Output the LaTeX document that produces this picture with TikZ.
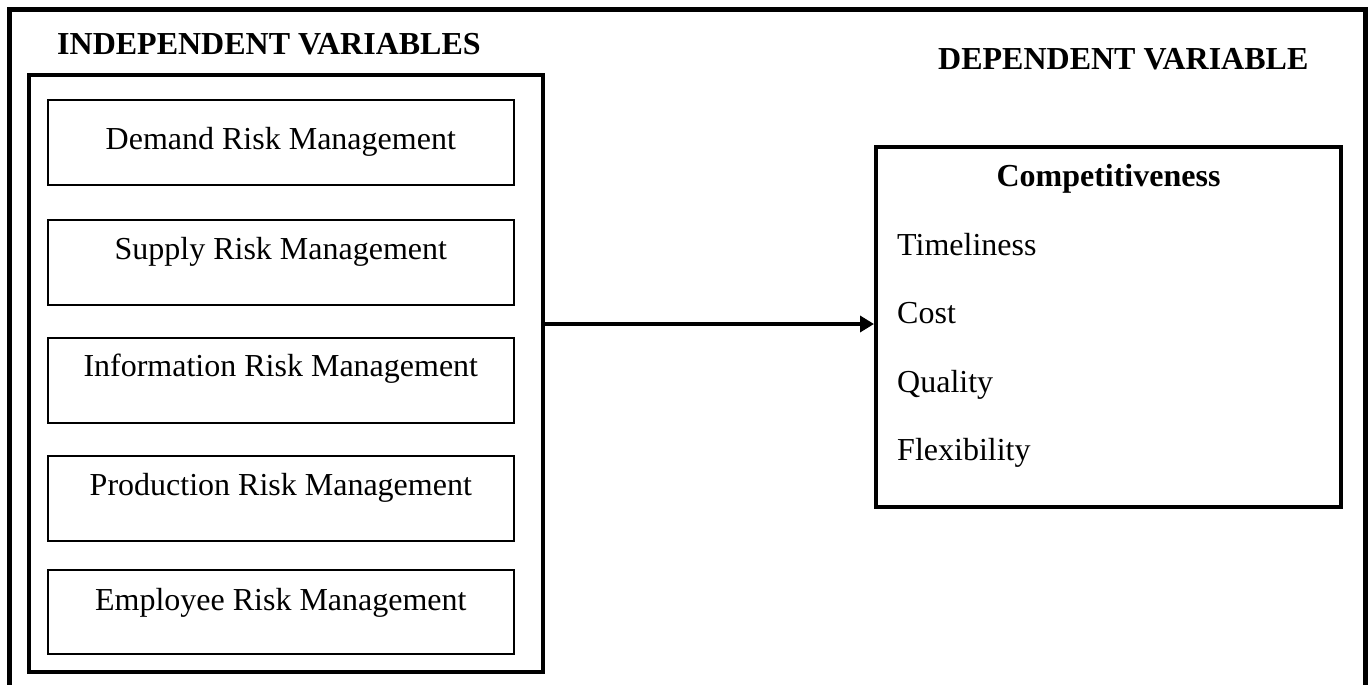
\documentclass[tikz,border=0pt]{standalone}
\usepackage{fontspec}
\setmainfont{Liberation Serif}
\usetikzlibrary{arrows.meta}
\begin{document}
\begin{tikzpicture}[x=1pt,y=-1pt,
  framestyle/.style={line width=5pt},
  bigbox/.style={draw,line width=4pt,rectangle,inner sep=0pt,anchor=north west},
  itembox/.style={draw,line width=1.6pt,rectangle,inner sep=0pt,anchor=north west,minimum width=466pt,minimum height=85pt},
  itemtext/.style={anchor=base,inner sep=0pt,font=\fontsize{32}{38}\selectfont},
  headtext/.style={anchor=base west,inner sep=0pt,font=\fontsize{32}{38}\selectfont\bfseries},
  listtext/.style={anchor=base west,inner sep=0pt,font=\fontsize{32}{38}\selectfont},
  arrowstyle/.style={line width=3.5pt,-{Triangle[length=14pt,width=16pt]}}
]
\useasboundingbox (0,0) rectangle (1370,685);
% outer frame (open at bottom)
\draw[framestyle] (9.5,690) -- (9.5,9.5) -- (1365,9.5) -- (1365,690);

% headings
\node[headtext] (hind) at (57,55) {INDEPENDENT VARIABLES};
\node[headtext] (hdep) at (938,70) {DEPENDENT VARIABLE};

% independent variables box
\node[bigbox,minimum width=514pt,minimum height=597pt] (indep) at (27,73) {};
\node[itembox] (b1) at (47,99) {};
\node[itembox] (b2) at (47,219) {};
\node[itembox] (b3) at (47,337) {};
\node[itembox] (b4) at (47,455) {};
\node[itembox,minimum height=84pt] (b5) at (47,569) {};
\node[itemtext] (t1) at ([yshift=-50pt]b1.north) {Demand Risk Management};
\node[itemtext] (t2) at ([yshift=-40pt]b2.north) {Supply Risk Management};
\node[itemtext] (t3) at ([yshift=-39pt]b3.north) {Information Risk Management};
\node[itemtext] (t4) at ([yshift=-40pt]b4.north) {Production Risk Management};
\node[itemtext] (t5) at ([yshift=-41pt]b5.north) {Employee Risk Management};

% dependent variable box
\node[bigbox,minimum width=465pt,minimum height=360pt] (dep) at (874,145) {};
\node[anchor=base,inner sep=0pt,font=\fontsize{32}{38}\selectfont\bfseries] (comp) at ([yshift=-41pt]dep.north) {Competitiveness};
\node[listtext] (l1) at (897,255) {Timeliness};
\node[listtext] (l2) at (897,323) {Cost};
\node[listtext] (l3) at (897,392) {Quality};
\node[listtext] (l4) at (897,460) {Flexibility};

% connector
\coordinate (ay) at (700,324);
\draw[arrowstyle] (indep.east |- ay) -- (dep.west |- ay);
\end{tikzpicture}
\end{document}
